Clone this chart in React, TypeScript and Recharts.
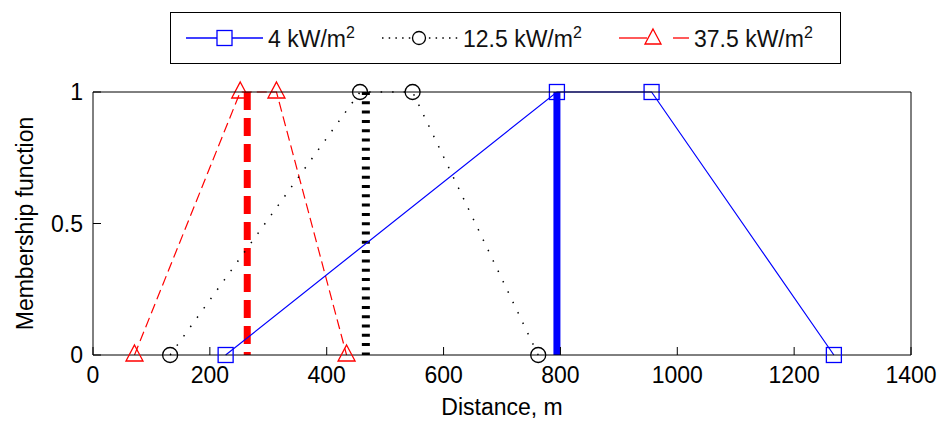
import { LineChart, Line, XAxis, YAxis, Label } from 'recharts'

// ─── Data ──────────────────────────────────────────────────────────────────
const distanceTicks = [0, 200, 400, 600, 800, 1000, 1200, 1400]
const membershipTicks = [0, 0.5, 1]

// fuzzy membership (distance m, membership)
const flux4 = [
  { d: 227, m: 0 },
  { d: 794, m: 1 },
  { d: 956, m: 1 },
  { d: 1268, m: 0 },
]
const flux12 = [
  { d: 132, m: 0 },
  { d: 457, m: 1 },
  { d: 547, m: 1 },
  { d: 762, m: 0 },
]
const flux37 = [
  { d: 71, m: 0 },
  { d: 252, m: 1 },
  { d: 314, m: 1 },
  { d: 434, m: 0 },
]

// crisp thresholds (thick verticals)
const crisp4 = [{ d: 794, m: 1 }, { d: 794, m: 0 }]
const crisp12 = [{ d: 467, m: 1 }, { d: 467, m: 0 }]
const crisp37 = [{ d: 264, m: 1 }, { d: 264, m: 0 }]

const BLUE = '#0000ff'
const RED = '#ff0000'
const BLACK = '#000000'
const FONT = "'Liberation Sans', Arial, sans-serif"
const FS = 23
const TICK_LEN = 8
const X_MARGIN = 12
const Y_MARGIN = 10

// ─── Markers ───────────────────────────────────────────────────────────────
const SquareDot = (p: any) => (
  <rect key={`sq-${p.index}`} x={p.cx - 7.5} y={p.cy - 7.5} width={15} height={15} fill="none" stroke={BLUE} strokeWidth={1.3} />
)
const CircleDot = (p: any) => (
  <circle key={`ci-${p.index}`} cx={p.cx} cy={p.cy} r={7.5} fill="none" stroke={BLACK} strokeWidth={1.3} />
)
const TriangleDot = (p: any) => (
  <path
    key={`tr-${p.index}`}
    d={`M${p.cx},${p.cy - 10} L${p.cx + 8.5},${p.cy + 6} L${p.cx - 8.5},${p.cy + 6} Z`}
    fill="none"
    stroke={RED}
    strokeWidth={1.3}
  />
)

// ─── Inward ticks (MATLAB style) ───────────────────────────────────────────
const BottomTick = ({ x, y, payload }: any) => (
  <g>
    <line x1={x} x2={x} y1={y - X_MARGIN} y2={y - X_MARGIN - TICK_LEN} stroke="#000" />
    <text x={x} y={y} dy="0.71em" textAnchor="middle" fill="#000" fontSize={FS} fontFamily={FONT}>
      {payload.value}
    </text>
  </g>
)
const TopTick = ({ x, y }: any) => <line x1={x} x2={x} y1={y} y2={y + TICK_LEN} stroke="#000" />
const LeftTick = ({ x, y, payload }: any) => (
  <g>
    <line x1={x + Y_MARGIN} x2={x + Y_MARGIN + TICK_LEN} y1={y} y2={y} stroke="#000" />
    <text x={x} y={y} dy="0.36em" textAnchor="end" fill="#000" fontSize={FS} fontFamily={FONT}>
      {payload.value}
    </text>
  </g>
)
const RightTick = ({ x, y }: any) => <line x1={x} x2={x - TICK_LEN} y1={y} y2={y} stroke="#000" />

// ─── Legend ────────────────────────────────────────────────────────────────
const legendLabels = ['4 kW/m', '12.5 kW/m', '37.5 kW/m']
const legendLeft = [15, 210, 448]

function LegendBox() {
  const glyphs = [
    <svg width={77} height={24}>
      <line x1={0} y1={12} x2={77} y2={12} stroke={BLUE} strokeWidth={1.3} />
      <rect x={31} y={4.5} width={15} height={15} fill="#fff" stroke={BLUE} strokeWidth={1.3} />
    </svg>,
    <svg width={77} height={24}>
      <line x1={1} y1={12} x2={77} y2={12} stroke={BLACK} strokeWidth={1.5} strokeDasharray="1.5 5.2" />
      <circle cx={38} cy={12} r={6.5} fill="#fff" stroke={BLACK} strokeWidth={1.3} />
    </svg>,
    <svg width={70} height={24}>
      <line x1={0} y1={12} x2={28} y2={12} stroke={RED} strokeWidth={1.3} />
      <line x1={54} y1={12} x2={70} y2={12} stroke={RED} strokeWidth={1.3} />
      <path d="M34,3 L42,18 L26,18 Z" fill="#fff" stroke={RED} strokeWidth={1.3} />
    </svg>,
  ]
  return (
    <div
      style={{
        position: 'absolute',
        left: 170,
        top: 12,
        width: 671,
        height: 52,
        border: '1px solid #000',
        background: '#fff',
        boxSizing: 'border-box',
        fontFamily: FONT,
        fontSize: FS,
        color: '#111',
      }}
    >
      {legendLabels.map((label, i) => (
        <div
          key={label}
          style={{ position: 'absolute', left: legendLeft[i], top: 0, height: 50, display: 'flex', alignItems: 'center' }}
        >
          {glyphs[i]}
          <span style={{ marginLeft: 5, whiteSpace: 'nowrap' }}>
            {label}
            <sup style={{ fontSize: 16, verticalAlign: 9 }}>2</sup>
          </span>
        </div>
      ))}
    </div>
  )
}

export default function App() {
  return (
    <div style={{ position: 'absolute', left: 0, top: 0, width: 940, height: 421, background: '#fff' }}>
      <LineChart width={940} height={421} margin={{ top: 91, right: 28, bottom: 0, left: 0 }}>
        <XAxis
          type="number"
          dataKey="d"
          domain={[0, 1400]}
          ticks={distanceTicks}
          height={66}
          stroke="#000"
          tickLine={false}
          tickSize={0}
          tickMargin={X_MARGIN}
          tick={<BottomTick />}
          interval={0}
        >
          <Label value="Distance, m" position="insideBottom" offset={6} style={{ fill: '#000', fontSize: FS, fontFamily: FONT }} />
        </XAxis>
        <YAxis
          type="number"
          domain={[0, 1]}
          ticks={membershipTicks}
          width={93}
          stroke="#000"
          tickLine={false}
          tickSize={0}
          tickMargin={Y_MARGIN}
          tick={<LeftTick />}
          interval={0}
        >
          <Label
            content={({ viewBox }: any) => {
              const cy = viewBox.y + viewBox.height / 2
              return (
                <text x={33} y={cy} transform={`rotate(-90 33 ${cy})`} textAnchor="middle" fill="#000" fontSize={FS} fontFamily={FONT}>
                  Membership function
                </text>
              )
            }}
          />
        </YAxis>

        <Line data={crisp37} dataKey="m" stroke={RED} strokeWidth={7} strokeDasharray="18 8" dot={false} isAnimationActive={false} />
        <Line data={crisp12} dataKey="m" stroke={BLACK} strokeWidth={8} strokeDasharray="3 6.3" dot={false} isAnimationActive={false} />
        <Line data={crisp4} dataKey="m" stroke={BLUE} strokeWidth={7} dot={false} isAnimationActive={false} />

        <Line data={flux37} dataKey="m" stroke={RED} strokeWidth={1.2} strokeDasharray="10 5" dot={TriangleDot} isAnimationActive={false} />
        <Line data={flux12} dataKey="m" stroke={BLACK} strokeWidth={1.5} strokeDasharray="1.5 10" dot={CircleDot} isAnimationActive={false} />
        <Line data={flux4} dataKey="m" stroke={BLUE} strokeWidth={1.2} dot={SquareDot} isAnimationActive={false} />

        <XAxis
          xAxisId="top"
          orientation="top"
          type="number"
          dataKey="d"
          domain={[0, 1400]}
          ticks={distanceTicks}
          height={1}
          stroke="#000"
          tickLine={false}
          tickSize={0}
          tickMargin={0}
          tick={<TopTick />}
          interval={0}
          {...({ zIndex: 1000 } as any)}
        />
        <YAxis
          yAxisId="right"
          orientation="right"
          type="number"
          domain={[0, 1]}
          ticks={membershipTicks}
          width={1}
          stroke="#000"
          tickLine={false}
          tickSize={0}
          tickMargin={0}
          tick={<RightTick />}
          interval={0}
        />
      </LineChart>
      <LegendBox />
    </div>
  )
}
